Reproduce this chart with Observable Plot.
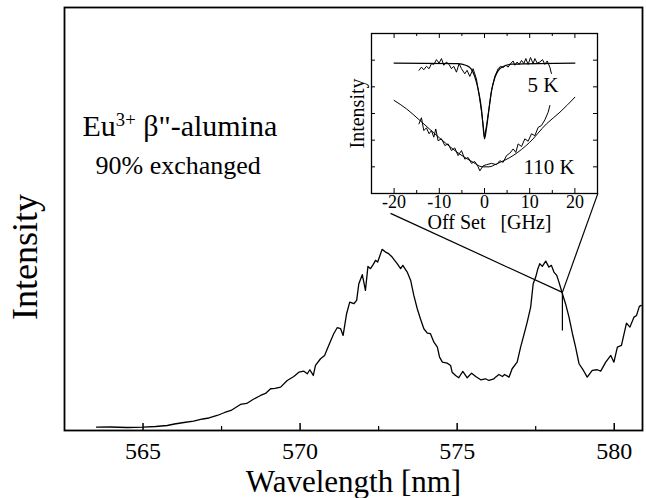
<!DOCTYPE html>
<html><head><meta charset="utf-8">
<script src="https://cdn.jsdelivr.net/npm/d3@7"></script>
<script src="https://cdn.jsdelivr.net/npm/@observablehq/plot@0.6"></script>
<style>
body{margin:0;background:#fff;}
#wrap{position:relative;width:646px;height:498px;overflow:hidden;}
#main,#inset{position:absolute;top:0;left:0;}
#inset{left:341px;top:23px;}
</style></head><body><div id="wrap"><div id="main"></div><div id="inset"></div></div>
<script>
// Main spectrum (Wavelength in nm, Intensity in arbitrary units)
const wavelength = [563.52,563.96,564.5,565.0,565.4,565.77,566.0,566.3,566.61,566.9,567.1,567.36,567.6,567.8,568.1,568.3,568.5,568.74,568.9,569.06,569.2,569.38,569.59,569.80,569.96,570.12,570.23,570.31,570.42,570.49,570.65,570.78,570.91,571.07,571.18,571.29,571.37,571.48,571.58,571.71,571.80,571.87,571.98,572.08,572.16,572.24,572.33,572.40,572.47,572.61,572.72,572.82,572.93,573.09,573.20,573.27,573.41,573.52,573.62,573.73,573.83,573.94,574.05,574.15,574.26,574.37,574.44,574.53,574.68,574.79,574.84,574.95,575.05,575.18,575.32,575.46,575.59,575.75,575.90,576.01,576.17,576.22,576.33,576.44,576.51,576.65,576.75,576.91,577.02,577.12,577.23,577.34,577.42,577.50,577.57,577.63,577.71,577.82,577.92,578.00,578.08,578.17,578.24,578.35,578.45,578.56,578.67,578.77,578.88,579.02,579.14,579.30,579.46,579.57,579.73,579.89,579.99,580.10,580.23,580.39,580.50,580.63,580.71,580.80,580.86];
const intensity = [3.3,3.5,3,3.3,4,5,6.5,8,9.3,11.5,12.5,15,18,20,26,27,31,35,37,41.7,42,43.3,50,54,58.3,59.3,56.7,60.7,55,65,71.7,75,85,96.7,102.7,101.7,95,116.7,128.3,126.7,130,146.7,155.7,140,164,161.7,166,170,168.3,181,178.3,176.7,173.3,166.7,161.7,165,158.3,150,135,121.7,111.7,101.7,97.3,96.7,88.3,83.3,73.3,68.3,67.3,65,58.3,55,52.7,59,52.7,57.3,54,50.7,51.7,50,51.7,53.3,56,54,56,53.3,61.7,68.3,83.3,95,108.3,123.3,146.7,153.3,161.7,166.7,164,169.3,163.3,165,158.3,155,148.3,136.7,126.7,113.3,96.7,83.3,66.7,60,53.3,60,60.7,59.3,68.3,75,68.3,83.3,85,107.3,103.3,113.3,115,124,125];
const xMajorTicks = [565,570,575,580];
const xMinorTicks = [567.5,572.5,577.5];

// Annotation: pointer lines from inset to the laser position on the spectrum
const pointerX1 = [572.88, 579.48];
const pointerY1 = [217, 237];
const pointerX2 = [578.35, 578.35];
const pointerY2 = [138, 138];
const markerX = [578.35];
const markerY1 = [138];
const markerY2 = [100];

// Inset: hole burning spectra vs offset (GHz)
const off5K = [-14.48,-13.95,-13.44,-12.84,-12.26,-11.73,-11.22,-10.63,-10.05,-9.52,-9.01,-8.41,-7.84,-7.31,-6.80,-6.20,-5.62,-5.09,-4.36,-3.85,-3.25,-2.52,-1.8,-1.2,-0.6,0,0.5,1.0,1.6,2.3,3.02,3.53,4.13,4.72,5.23,5.76,6.34,6.71,7.22,7.66,8.19,8.70,9.14,9.65,10.18,10.76,11.14,11.65,12.24,12.84,13.35,13.86,14.46,14.8];
const int5K = [4.62,4.74,4.64,4.77,4.68,4.87,4.84,5.02,4.89,5.06,4.81,4.93,4.84,4.68,4.77,4.55,4.87,4.68,4.49,4.62,4.39,4.68,4.3,3.7,3.0,2.1,2.6,3.2,3.9,4.4,4.68,4.77,4.72,4.81,4.74,4.87,4.97,4.81,4.93,4.84,4.99,4.87,5.06,4.84,5.10,4.87,5.06,4.89,4.93,5.02,4.84,4.97,4.74,4.5];
const fitOff5K = [-20,-6,-4,-3,-2.2,-1.4,-0.7,-0.35,0,0.4,0.8,1.5,2.3,3,4,6,20];
const fit5K = [4.89,4.87,4.8,4.68,4.4,3.9,3.2,2.6,2.05,2.4,2.9,3.8,4.35,4.6,4.75,4.85,4.89];
const off110K = [-14.5,-13.95,-13.44,-12.84,-12.26,-11.73,-11.22,-10.78,-10.27,-9.52,-8.78,-8.05,-7.31,-6.58,-5.84,-5.09,-4.36,-3.62,-2.88,-2.15,-1.41,-1.04,-0.3,0.44,1.55,2.66,3.39,4.13,4.87,5.6,6.34,6.93,7.44,8.19,8.92,9.65,10.4,11.14,11.87,12.6,13.35,14.09,14.46];
const int110K = [2.61,2.84,2.36,2.46,2.24,2.36,2.11,2.42,1.98,2.05,1.80,1.86,1.61,1.71,1.42,1.61,1.29,1.35,1.13,1.20,1.00,0.85,1.04,1.08,1.13,1.08,1.23,1.17,1.42,1.51,1.67,1.54,1.86,1.76,2.05,1.96,2.24,2.17,2.48,2.55,2.76,3.05,3.30];
const fitOff110K = [-20,-17.3,-14.3,-11.4,-8.4,-5.5,-2.5,-0.5,1,2.66,6.3,10,13.7,16.7,20];
const fit110K = [3.49,3.18,2.74,2.30,1.86,1.48,1.17,1.0,1.0,1.11,1.42,1.92,2.61,3.05,3.61];
const insetXLabels = [-20,-10,0,10,20];
const insetXMinor = [-25,-15,-5,5,15,25];
const insetYTicks = [1,2,3,4,5];

const zip = (xs, ys) => xs.map((x, i) => ({x, y: ys[i]}));
const spectrum = zip(wavelength, intensity);
const pointers = pointerX1.map((x, i) => ({x1: x, y1: pointerY1[i], x2: pointerX2[i], y2: pointerY2[i]}));
const markers = markerX.map((x, i) => ({x, y1: markerY1[i], y2: markerY2[i]}));

const FONT = "Liberation Serif";
const W = 646, H = 498, mL = 64, mR = 4, mT = 7, mB = 68;
const fh = H - mT - mB;

const main = Plot.plot({
  width: W, height: H,
  marginLeft: mL, marginRight: mR, marginTop: mT, marginBottom: mB,
  style: {background: "transparent", color: "black", fontFamily: FONT},
  x: {domain: [562.5, 580.9], axis: null},
  y: {domain: [0, 422.7], axis: null},
  marks: [
    Plot.line(spectrum, {x: "x", y: "y", stroke: "black", strokeWidth: 1.3}),
    Plot.link(pointers, {x1: "x1", y1: "y1", x2: "x2", y2: "y2", stroke: "black", strokeWidth: 1.2}),
    Plot.link(markers, {x1: "x", x2: "x", y1: "y1", y2: "y2", stroke: "black", strokeWidth: 1.2}),
    Plot.tickX(xMajorTicks, {x: d => d, insetTop: fh - 7, stroke: "black", strokeWidth: 1.5}),
    Plot.tickX(xMinorTicks, {x: d => d, insetTop: fh - 4, stroke: "black", strokeWidth: 1.2}),
    Plot.frame({stroke: "black", strokeWidth: 1.8}),
    Plot.text(xMajorTicks, {x: d => d, text: d => String(d), frameAnchor: "bottom", lineAnchor: "bottom", dy: 28, fontSize: 24, fontFamily: FONT, fill: "black"}),
    Plot.text(["Wavelength [nm]"], {text: d => d, frameAnchor: "bottom", lineAnchor: "bottom", dy: 61, fontSize: 31, fontFamily: FONT, fill: "black"}),
    Plot.text(["Intensity"], {text: d => d, frameAnchor: "left", textAnchor: "middle", rotate: -90, dx: -39, dy: 38, fontSize: 36, fontFamily: FONT, fill: "black"}),
    Plot.text(['Eu3+ β"-alumina'], {text: d => d, frameAnchor: "top-left", textAnchor: "start", lineAnchor: "bottom", dx: 18, dy: 128, fontSize: 30, fontFamily: FONT, fill: "black"}),
    Plot.text(["90% exchanged"], {text: d => d, frameAnchor: "top-left", textAnchor: "start", lineAnchor: "bottom", dx: 31, dy: 166, fontSize: 26, fontFamily: FONT, fill: "black"})
  ]
});
// superscript for Eu3+
d3.select(main).selectAll("text").filter(function() { return this.textContent === 'Eu3+ β"-alumina'; }).each(function() {
  const t = d3.select(this);
  t.text(null);
  t.append("tspan").text("Eu");
  t.append("tspan").attr("font-size", "0.62em").attr("dy", "-0.5em").text("3+");
  t.append("tspan").attr("dy", "0.31em").text(' β"-alumina');
});
document.getElementById("main").appendChild(main);

const iW = 266, iH = 210, imL = 30, imR = 10, imT = 10, imB = 40;
const ifw = iW - imL - imR, ifh = iH - imT - imB;
const inset = Plot.plot({
  width: iW, height: iH,
  marginLeft: imL, marginRight: imR, marginTop: imT, marginBottom: imB,
  style: {background: "transparent", color: "black", overflow: "visible", fontFamily: FONT},
  x: {domain: [-25, 25], axis: null},
  y: {domain: [0, 6], axis: null},
  marks: [
    Plot.line(zip(fitOff5K, fit5K), {x: "x", y: "y", stroke: "black", strokeWidth: 1.2, curve: "monotone-x"}),
    Plot.line(zip(off5K, int5K), {x: "x", y: "y", stroke: "black", strokeWidth: 1}),
    Plot.line(zip(fitOff110K, fit110K), {x: "x", y: "y", stroke: "black", strokeWidth: 1, curve: "monotone-x"}),
    Plot.line(zip(off110K, int110K), {x: "x", y: "y", stroke: "black", strokeWidth: 1}),
    Plot.tickX(insetXLabels, {x: d => d, insetTop: ifh - 5, stroke: "black"}),
    Plot.tickX(insetXLabels, {x: d => d, insetBottom: ifh - 5, stroke: "black"}),
    Plot.tickX(insetXMinor, {x: d => d, insetTop: ifh - 3, stroke: "black"}),
    Plot.tickX(insetXMinor, {x: d => d, insetBottom: ifh - 3, stroke: "black"}),
    Plot.tickY(insetYTicks, {y: d => d, insetRight: ifw - 4, stroke: "black"}),
    Plot.tickY(insetYTicks, {y: d => d, insetLeft: ifw - 4, stroke: "black"}),
    Plot.frame({stroke: "black", strokeWidth: 1.3}),
    Plot.text(insetXLabels, {x: d => d, text: d => (d < 0 ? "-" + Math.abs(d) : String(d)), frameAnchor: "bottom", lineAnchor: "bottom", dy: 14, fontSize: 18, fontFamily: FONT, fill: "black"}),
    Plot.text(["Off\u00a0Set\u00a0\u00a0\u00a0[GHz]"], {text: d => d, frameAnchor: "bottom", lineAnchor: "bottom", dx: 5, dy: 35, fontSize: 20, fontFamily: FONT, fill: "black"}),
    Plot.text(["Intensity"], {text: d => d, frameAnchor: "left", textAnchor: "middle", rotate: -90, dx: -14, fontSize: 20, fontFamily: FONT, fill: "black"}),
    Plot.text(["5 K"], {text: d => d, frameAnchor: "top-left", textAnchor: "start", lineAnchor: "bottom", dx: 156, dy: 58, fontSize: 21, fontFamily: FONT, fill: "black"}),
    Plot.text(["110 K"], {text: d => d, frameAnchor: "top-left", textAnchor: "start", lineAnchor: "bottom", dx: 152, dy: 140, fontSize: 21, fontFamily: FONT, fill: "black"})
  ]
});
document.getElementById("inset").appendChild(inset);
</script></body></html>
